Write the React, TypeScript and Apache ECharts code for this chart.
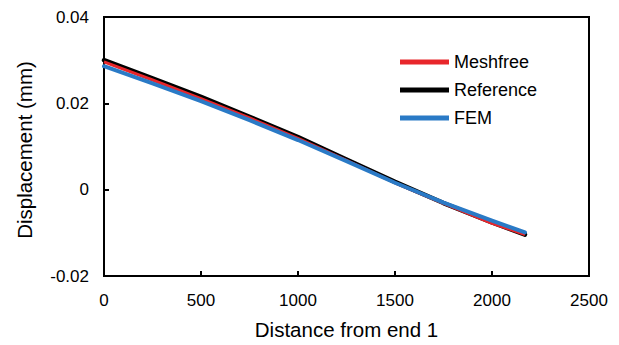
import React, { useEffect, useRef } from "react";
import * as echarts from "echarts";

const distances = [0, 250, 500, 750, 1000, 1250, 1500, 1750, 2000, 2170];
const meshfree = [0.0296, 0.0254, 0.0211, 0.0166, 0.0119, 0.0068, 0.0016, -0.0032, -0.0078, -0.0104];
const reference = [0.0300, 0.0258, 0.0215, 0.0169, 0.0122, 0.0070, 0.0018, -0.0031, -0.0076, -0.0104];
const fem = [0.0286, 0.0246, 0.0205, 0.0161, 0.0115, 0.0066, 0.0016, -0.0030, -0.0072, -0.0099];
const yTicks = [-0.02, 0, 0.02, 0.04];
const xTicks = [0, 500, 1000, 1500, 2000, 2500];

const pair = (ys: number[]) => distances.map((x, i) => [x, ys[i]]);

export default function App() {
  const ref = useRef<HTMLDivElement>(null);
  useEffect(() => {
    if (!ref.current) return;
    const chart = echarts.init(ref.current, null, { renderer: "svg" });
    const font = "Arial, 'Liberation Sans', sans-serif";
    chart.setOption({
      animation: false,
      backgroundColor: "#ffffff",
      textStyle: { fontFamily: font },
      grid: {
        left: 104,
        right: 30,
        top: 17,
        bottom: 67,
        show: true,
        borderColor: "#000",
        borderWidth: 2,
        containLabel: false,
      },
      legend: {
        orient: "vertical",
        left: 395,
        top: 48,
        itemWidth: 49,
        itemHeight: 5,
        itemGap: 10,
        icon: "rect",
        textStyle: { fontSize: 18, color: "#000", fontFamily: font },
        data: ["Meshfree", "Reference", "FEM"],
      },
      xAxis: {
        type: "value",
        min: xTicks[0],
        max: xTicks[xTicks.length - 1],
        interval: 500,
        name: "Distance from end 1",
        nameLocation: "middle",
        nameGap: 43,
        nameTextStyle: { fontSize: 20.5, color: "#000", fontFamily: font },
        axisLine: { show: true, onZero: false, lineStyle: { color: "#000", width: 2 } },
        axisTick: { show: true, inside: true, length: 5, lineStyle: { color: "#000", width: 2 } },
        axisLabel: {
          fontSize: 17,
          color: "#000",
          margin: 16,
          fontFamily: font,
          formatter: (v: number) => String(Math.round(v)),
        },
        splitLine: { show: false },
      },
      yAxis: {
        type: "value",
        min: yTicks[0],
        max: yTicks[yTicks.length - 1],
        interval: 0.02,
        name: "Displacement (mm)",
        nameLocation: "middle",
        nameGap: 69,
        nameRotate: 90,
        nameTextStyle: { fontSize: 20.5, color: "#000", fontFamily: font, padding: [0, 7, 0, 0] },
        axisLine: { show: true, onZero: false, lineStyle: { color: "#000", width: 2 } },
        axisTick: { show: true, inside: true, length: 5, lineStyle: { color: "#000", width: 2 } },
        axisLabel: {
          fontSize: 17,
          color: "#000",
          margin: 15,
          fontFamily: font,
          formatter: (v: number) => {
            const r = Math.round(v * 100) / 100;
            return r === 0 ? "0" : r.toFixed(2);
          },
        },
        splitLine: { show: false },
      },
      series: [
        {
          name: "Reference",
          type: "line",
          data: pair(reference),
          showSymbol: false,
          lineStyle: { color: "#000000", width: 4.5, join: "round", cap: "round" },
          itemStyle: { color: "#000000" },
          z: 2,
        },
        {
          name: "Meshfree",
          type: "line",
          data: pair(meshfree),
          showSymbol: false,
          lineStyle: { color: "#e8262b", width: 3, join: "round" },
          itemStyle: { color: "#e8262b" },
          z: 3,
        },
        {
          name: "FEM",
          type: "line",
          data: pair(fem),
          showSymbol: false,
          lineStyle: { color: "#2a7ac6", width: 4, join: "round", cap: "round" },
          itemStyle: { color: "#2a7ac6" },
          z: 4,
        },
      ],
    });
    return () => chart.dispose();
  }, []);
  return (
    <div
      ref={ref}
      style={{ position: "absolute", left: 0, top: 0, width: 619, height: 345 }}
    />
  );
}
